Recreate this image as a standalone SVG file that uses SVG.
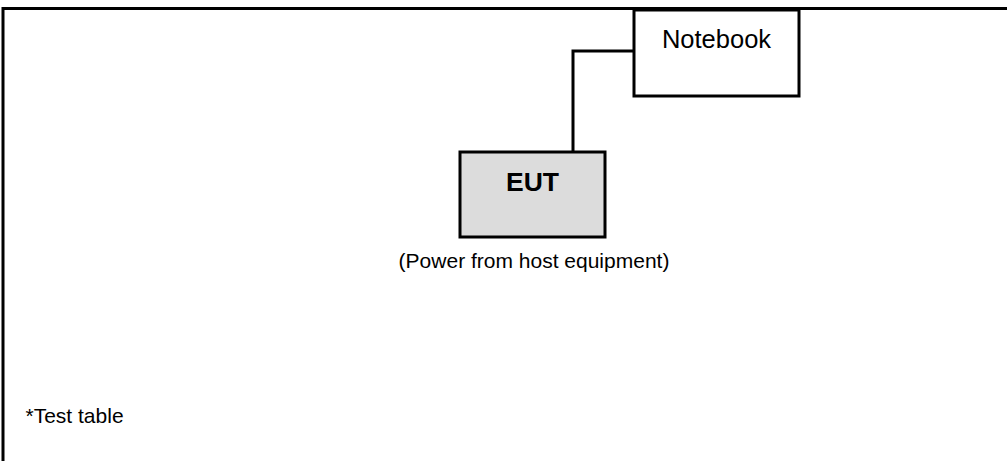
<svg xmlns="http://www.w3.org/2000/svg" width="1007" height="461" viewBox="0 0 1007 461">
<style>
.box{stroke:#000;stroke-width:3}
.t{font-family:"Liberation Sans",Arial,sans-serif;fill:#000}
</style>
<rect width="1007" height="461" fill="#fff"/>
<path d="M3 461 V8.5 H1007" fill="none" stroke="#000" stroke-width="3"/>
<g id="connectors">
<path d="M573 152 V51 H634" fill="none" stroke="#000" stroke-width="3"/>
</g>
<g id="notebook">
<rect class="box" x="634" y="10" width="165" height="86" fill="#fff"/>
<text class="t" x="716.5" y="47.5" font-size="25.5" text-anchor="middle">Notebook</text>
</g>
<g id="eut">
<rect class="box" x="460" y="152" width="145" height="85" fill="#dcdcdc"/>
<text class="t" x="532.5" y="191" font-size="26.5" font-weight="bold" text-anchor="middle">EUT</text>
</g>
<g id="power-note">
<text class="t" x="534" y="267.5" font-size="21" text-anchor="middle">(Power from host equipment)</text>
</g>
<g id="test-table">
<text class="t" x="25.5" y="423" font-size="21">*Test table</text>
</g>
</svg>
